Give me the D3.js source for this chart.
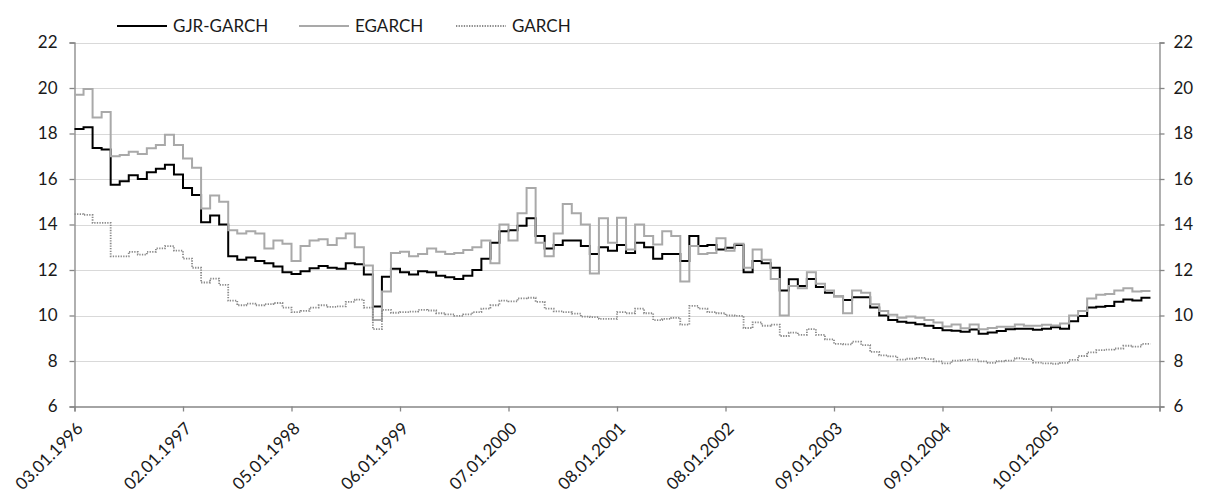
<!DOCTYPE html>
<html>
<head>
<meta charset="utf-8">
<script src="https://cdn.jsdelivr.net/npm/d3@7"></script>
<style>
  html, body { margin: 0; padding: 0; background: #fff; }
  svg { display: block; }
  text { font-family: Lato, "Open Sans", sans-serif; fill: #1a1a1a; }
</style>
</head>
<body>
<svg id="chart" width="1206" height="500"></svg>
<script>
// ---- data (monthly forecast levels, month 0 = Jan 1996) ----
const seriesNames = ["GJR-GARCH", "EGARCH", "GARCH"];

const gjrGarch = [
  18.2, 18.28, 17.36, 17.3, 15.75, 15.9, 16.16, 16.0, 16.3, 16.45,
  16.63, 16.2, 15.6, 15.3, 14.1, 14.4, 14.0, 12.6, 12.45, 12.55,
  12.4, 12.3, 12.15, 11.9, 11.82, 11.95, 12.08, 12.18, 12.1, 12.05,
  12.3, 12.25, 11.8, 10.4, 11.7, 12.05, 11.9, 11.8, 11.95, 11.9,
  11.75, 11.68, 11.6, 11.75, 12.0, 12.5, 13.2, 13.7, 13.75, 13.95,
  14.27, 13.5, 12.95, 13.1, 13.3, 13.3, 13.05, 12.7, 13.0, 12.85,
  13.1, 12.75, 13.2, 13.0, 12.5, 12.7, 12.7, 12.4, 13.5, 13.05,
  13.1, 12.9, 12.98, 13.1, 11.9, 12.4, 12.3, 12.1, 11.1, 11.59,
  11.3, 11.6, 11.25, 11.0, 10.85, 10.68, 10.8, 10.8, 10.35, 10.0,
  9.8, 9.72, 9.68, 9.62, 9.55, 9.45, 9.35, 9.33, 9.29, 9.38,
  9.2, 9.25, 9.32, 9.4, 9.42, 9.42, 9.37, 9.42, 9.48, 9.42,
  9.75, 9.98, 10.35, 10.38, 10.42, 10.6, 10.7, 10.66, 10.78
];

const eGarch = [
  19.7, 19.96, 18.7, 18.95, 17.0, 17.05, 17.2, 17.1, 17.35, 17.5,
  17.95, 17.5, 16.9, 16.5, 14.7, 15.27, 15.0, 13.75, 13.6, 13.7,
  13.6, 12.95, 13.3, 13.15, 12.4, 13.05, 13.3, 13.35, 13.1, 13.4,
  13.6, 13.0, 12.2, 9.8, 11.05, 12.75, 12.8, 12.6, 12.7, 12.95,
  12.8, 12.7, 12.75, 12.88, 13.0, 13.3, 12.3, 14.0, 13.3, 14.5,
  15.6, 13.2, 12.6, 13.6, 14.9, 14.5, 14.0, 11.85, 14.27, 13.2,
  14.3, 12.9, 14.0, 13.5, 13.12, 13.7, 13.5, 11.5, 13.05, 12.7,
  12.75, 13.4, 12.85, 13.15, 12.1, 12.9, 12.45, 11.6, 10.0, 11.3,
  11.2, 11.9, 11.4, 11.1, 10.86, 10.1, 11.1, 11.0, 10.5, 10.2,
  10.03, 9.9, 9.96, 9.9, 9.8, 9.69, 9.52, 9.6, 9.44, 9.6,
  9.4, 9.45, 9.51, 9.51, 9.6, 9.55, 9.55, 9.59, 9.56, 9.65,
  10.0, 10.2, 10.75, 10.91, 10.95, 11.1, 11.2, 11.05, 11.08
];

const garch = [
  14.46, 14.42, 14.07, 14.07, 12.6, 12.6, 12.8, 12.68, 12.8, 12.95,
  13.05, 12.85, 12.5, 12.1, 11.45, 11.62, 11.35, 10.65, 10.45, 10.52,
  10.45, 10.5, 10.55, 10.35, 10.15, 10.2, 10.35, 10.45, 10.38, 10.4,
  10.6, 10.7, 10.35, 9.4, 10.25, 10.12, 10.15, 10.17, 10.25, 10.22,
  10.1, 10.05, 9.98, 10.05, 10.15, 10.3, 10.45, 10.65, 10.62, 10.75,
  10.78, 10.6, 10.3, 10.18, 10.15, 10.08, 9.95, 9.93, 9.85, 9.85,
  10.15, 10.1, 10.3, 10.1, 9.8, 9.85, 9.9, 9.6, 10.42, 10.3,
  10.15, 10.1, 10.0, 9.98, 9.45, 9.7, 9.55, 9.6, 9.1, 9.25,
  9.15, 9.4, 9.15, 8.95, 8.75, 8.73, 8.85, 8.7, 8.4, 8.25,
  8.2, 8.06, 8.1, 8.14, 8.08, 7.98, 7.9, 8.02, 8.04, 8.06,
  7.98, 7.92, 7.99, 8.02, 8.12, 8.08, 7.93, 7.9, 7.88, 7.92,
  8.05, 8.22, 8.38, 8.48, 8.5, 8.55, 8.67, 8.63, 8.75
];

const xTickLabels = [
  "03.01.1996", "02.01.1997", "05.01.1998", "06.01.1999", "07.01.2000",
  "08.01.2001", "08.01.2002", "09.01.2003", "09.01.2004", "10.01.2005", ""
];
const yTicks = [6, 8, 10, 12, 14, 16, 18, 20, 22];

// ---- layout ----
const plotLeft = 74.5, plotRight = 1159.5, plotTop = 42.5, plotBottom = 406.5;
const monthsPerTick = 12;
const nMonths = (xTickLabels.length - 1) * monthsPerTick;

const svg = d3.select("#chart");
const x = d3.scaleLinear().domain([0, nMonths]).range([plotLeft, plotRight]);
const y = d3.scaleLinear().domain([6, 22]).range([plotBottom, plotTop]);

const gridColor = "#d9d9d9";
const axisColor = "#868686";
const fontSize = 17;

// gridlines
svg.append("g").selectAll("line")
  .data(yTicks.filter(v => v > 6))
  .join("line")
  .attr("x1", plotLeft).attr("x2", plotRight)
  .attr("y1", d => Math.round(y(d)) + 0.5).attr("y2", d => Math.round(y(d)) + 0.5)
  .attr("stroke", gridColor).attr("stroke-width", 1);

// left axis
const yAxisL = d3.axisLeft(y).tickValues(yTicks).tickSize(5).tickPadding(12).tickFormat(d3.format("d"));
const gL = svg.append("g").attr("transform", `translate(${plotLeft},0)`).call(yAxisL);
// right axis
const yAxisR = d3.axisRight(y).tickValues(yTicks).tickSize(5).tickPadding(9).tickFormat(d3.format("d"));
const gR = svg.append("g").attr("transform", `translate(${plotRight},0)`).call(yAxisR);
// bottom axis
const tickVals = xTickLabels.map((_, i) => i * monthsPerTick);
const xAxis = d3.axisBottom(x).tickValues(tickVals).tickSize(5).tickFormat((d, i) => xTickLabels[i]);
const gB = svg.append("g").attr("transform", `translate(0,${plotBottom})`).call(xAxis);

[gL, gR, gB].forEach(g => {
  g.select(".domain").attr("stroke", axisColor).attr("stroke-width", 1.3);
  g.selectAll(".tick line").attr("stroke", axisColor).attr("stroke-width", 1.3);
  g.selectAll("text").attr("font-size", fontSize).attr("font-family", "Lato, sans-serif").attr("fill", "#1a1a1a");
});
gB.selectAll(".tick text")
  .attr("text-anchor", "end")
  .attr("dy", null).attr("y", null)
  .attr("transform", "translate(9,23) rotate(-45)");

// series lines
const line = d3.line()
  .x(d => x(d[0]))
  .y(d => y(d[1]))
  .curve(d3.curveStepAfter);

function pts(arr) {
  const p = arr.map((v, i) => [i, v]);
  p.push([arr.length, arr[arr.length - 1]]);
  return p;
}

const styles = [
  { data: gjrGarch, stroke: "#000000", width: 2, dash: null },
  { data: eGarch, stroke: "#a9a9a9", width: 2, dash: null },
  { data: garch, stroke: "#8a8a8a", width: 1.8, dash: "1.3,1.3" }
];

styles.forEach(s => {
  svg.append("path")
    .attr("d", line(pts(s.data)))
    .attr("fill", "none")
    .attr("stroke", s.stroke)
    .attr("stroke-width", s.width)
    .attr("stroke-dasharray", s.dash);
});

// legend
const legendX = [117, 299, 456];
const legendY = 26;
const lg = svg.append("g");
seriesNames.forEach((name, i) => {
  const s = styles[i];
  lg.append("line")
    .attr("x1", legendX[i]).attr("x2", legendX[i] + 50)
    .attr("y1", legendY).attr("y2", legendY)
    .attr("stroke", s.stroke).attr("stroke-width", s.width)
    .attr("stroke-dasharray", s.dash);
  lg.append("text")
    .attr("x", legendX[i] + 56).attr("y", legendY)
    .attr("dy", "0.35em")
    .attr("font-size", fontSize)
    .text(name);
});
</script>
</body>
</html>
